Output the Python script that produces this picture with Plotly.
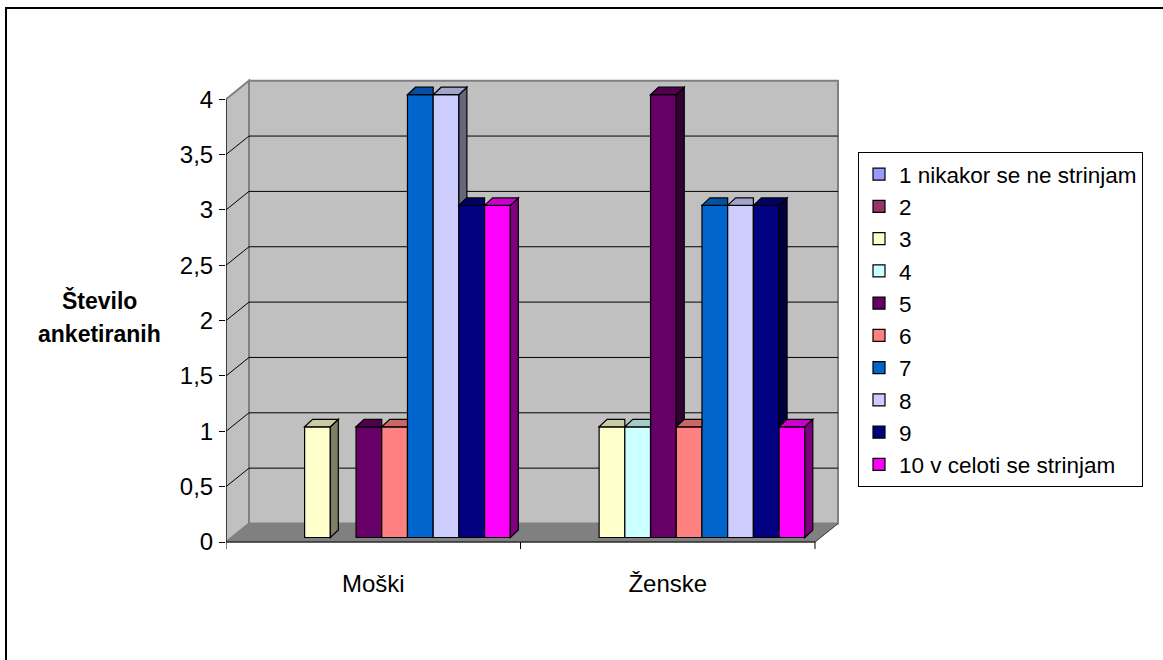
import plotly.graph_objects as go

# ---------------- data ----------------
categories = ["Moški", "Ženske"]
series_names = ["1 nikakor se ne strinjam", "2", "3", "4", "5", "6", "7", "8", "9",
                "10 v celoti se strinjam"]
series_colors = ["#9999FF", "#993366", "#FFFFCC", "#CCFFFF", "#660066", "#FF8080",
                 "#0066CC", "#CCCCFF", "#000080", "#FF00FF"]
moski = [0, 0, 1, 0, 1, 1, 4, 4, 3, 3]
zenske = [0, 0, 1, 1, 4, 1, 3, 3, 3, 1]
y_tickvals = [0, 0.5, 1, 1.5, 2, 2.5, 3, 3.5, 4]
y_ticktext = ["0", "0,5", "1", "1,5", "2", "2,5", "3", "3,5", "4"]
y_title_lines = ["Število", "anketiranih"]

values_by_cat = [moski, zenske]

# ---------------- geometry (pixels) ----------------
W_PX, H_PX = 1163, 660
L, R, T, B = 226, 840, 70, 560
PX_X = 294.5           # px per category unit
PX_Y = 110.7           # px per value unit
Y0_PX = 542            # pixel of value 0 on the front axis
x_lo = -0.5
x_hi = x_lo + (R - L) / PX_X
y_lo = -(B - Y0_PX) / PX_Y
y_hi = (Y0_PX - T) / PX_Y

DXW, DYW = 23 / PX_X, 18.5 / PX_Y        # wall depth
BSX, BSY = 8.5 / PX_X, 4.5 / PX_Y        # bar row offset into depth
DXB, DYB = 8 / PX_X, 7.5 / PX_Y          # bar depth
BARGAP = 0.127
n = len(series_names)
group_w = 1 - BARGAP
bar_w = group_w / n

FONT = "Liberation Sans, Arial, sans-serif"


def scale(hex_color, f):
    h = hex_color.lstrip("#")
    r, g, b = (int(h[i:i + 2], 16) for i in (0, 2, 4))
    return "#%02X%02X%02X" % (int(r * f), int(g * f), int(b * f))


def px_to_paper_x(p):
    return (p - L) / (R - L)


def px_to_paper_y(p):
    return (B - p) / (B - T)


fig = go.Figure()

cat_idx = list(range(len(categories)))
for i, name in enumerate(series_names):
    vals = [values_by_cat[c][i] for c in cat_idx]
    fig.add_trace(go.Bar(
        name=name,
        x=cat_idx,
        y=[v if v else None for v in vals],
        xaxis="x2", yaxis="y2",
        marker=dict(color=series_colors[i], line=dict(color="black", width=1.2)),
        hoverinfo="skip",
    ))

shapes = []

# outer chart border
shapes.append(dict(type="rect", xref="paper", yref="paper",
                   x0=px_to_paper_x(6), x1=px_to_paper_x(1175),
                   y0=px_to_paper_y(675), y1=px_to_paper_y(8),
                   line=dict(color="black", width=2), fillcolor="rgba(0,0,0,0)",
                   layer="below"))

# back wall
shapes.append(dict(type="rect", xref="x", yref="y", x0=x_lo + DXW, x1=1.5 + DXW,
                   y0=DYW, y1=4 + DYW, fillcolor="#C0C0C0",
                   line=dict(color="#808080", width=2), layer="below"))
# left wall
shapes.append(dict(type="path", xref="x", yref="y",
                   path=f"M {x_lo},0 L {x_lo + DXW},{DYW} L {x_lo + DXW},{4 + DYW} L {x_lo},4 Z",
                   fillcolor="#C0C0C0", line=dict(color="#808080", width=2), layer="below"))
# floor
shapes.append(dict(type="path", xref="x", yref="y",
                   path=f"M {x_lo},0 L 1.5,0 L {1.5 + DXW},{DYW} L {x_lo + DXW},{DYW} Z",
                   fillcolor="#808080", line=dict(color="#808080", width=1), layer="below"))
shapes.append(dict(type="line", xref="x", yref="y", x0=1.5, y0=0, x1=1.5 + DXW, y1=DYW,
                   line=dict(color="#404040", width=1), layer="below"))
# gridlines (back wall + left wall diagonals)
for v in y_tickvals[1:-1]:
    shapes.append(dict(type="line", xref="x", yref="y", x0=x_lo + DXW, x1=1.5 + DXW,
                       y0=v + DYW, y1=v + DYW, line=dict(color="black", width=1), layer="below"))
    shapes.append(dict(type="line", xref="x", yref="y", x0=x_lo, x1=x_lo + DXW,
                       y0=v, y1=v + DYW, line=dict(color="black", width=1), layer="below"))
# front axes lines
shapes.append(dict(type="line", xref="x", yref="y", x0=x_lo, x1=x_lo, y0=0, y1=4,
                   line=dict(color="black", width=1)))
shapes.append(dict(type="line", xref="x", yref="y", x0=x_lo, x1=1.5, y0=0, y1=0,
                   line=dict(color="black", width=1)))
for xt in [x_lo + k for k in range(len(categories) + 1)]:
    shapes.append(dict(type="line", xref="x", yref="y", x0=xt, x1=xt, y0=0, y1=-7 / PX_Y,
                       line=dict(color="black", width=1)))

# 3D faces of bars (side + top), drawn in the bar axes
for c in cat_idx:
    vals = values_by_cat[c]
    for i in range(n):
        v = vals[i]
        if not v:
            continue
        u = vals[i + 1] if i + 1 < n else 0
        xl = c - group_w / 2 + i * bar_w
        xr = xl + bar_w
        if u < v:
            shapes.append(dict(
                type="path", xref="x2", yref="y2",
                path=f"M {xr},{u} L {xr + DXB},{u + DYB} L {xr + DXB},{v + DYB} L {xr},{v} Z",
                fillcolor=scale(series_colors[i], 0.5), line=dict(color="black", width=1.2),
                layer="above"))
            path = f"M {xl},{v} L {xl + DXB},{v + DYB} L {xr + DXB},{v + DYB} L {xr},{v} Z"
        else:
            path = f"M {xl},{v} L {xl + DXB},{v + DYB} L {xr},{v + DYB} L {xr},{v} Z"
        shapes.append(dict(type="path", xref="x2", yref="y2", path=path,
                           fillcolor=scale(series_colors[i], 0.8),
                           line=dict(color="black", width=1.2), layer="above"))

annotations = []
for txt, cy in zip(y_title_lines, [300, 334]):
    annotations.append(dict(text=f"<b>{txt}</b>", xref="paper", yref="paper",
                            x=px_to_paper_x(99), y=px_to_paper_y(cy),
                            xanchor="center", yanchor="middle", showarrow=False,
                            font=dict(family=FONT, size=23, color="black")))

fig.update_layout(
    width=W_PX, height=H_PX,
    margin=dict(l=L, r=W_PX - R, t=T, b=H_PX - B, autoexpand=False),
    paper_bgcolor="white", plot_bgcolor="white",
    barmode="group", bargap=BARGAP, bargroupgap=0,
    font=dict(family=FONT, size=23, color="black"),
    xaxis=dict(range=[x_lo, x_hi], tickvals=cat_idx, ticktext=categories,
               showgrid=False, zeroline=False, showline=False, ticks="",
               ticklabelstandoff=7, tickfont=dict(size=24)),
    yaxis=dict(range=[y_lo, y_hi], tickvals=y_tickvals, ticktext=y_ticktext,
               showgrid=False, zeroline=False, showline=False, ticks="outside",
               ticklen=6, tickcolor="black", tickwidth=1, tickfont=dict(size=24),
               ticklabelstandoff=1),
    xaxis2=dict(overlaying="x", anchor="y2", visible=False,
                range=[x_lo - BSX, x_hi - BSX]),
    yaxis2=dict(overlaying="y", anchor="x2", visible=False,
                range=[y_lo - BSY, y_hi - BSY]),
    legend=dict(x=px_to_paper_x(858), y=px_to_paper_y(152), xanchor="left", yanchor="top",
                bgcolor="white", bordercolor="black", borderwidth=1,
                font=dict(family=FONT, size=22.5), traceorder="normal",
                entrywidth=262, entrywidthmode="pixels"),
    shapes=shapes,
    annotations=annotations,
    showlegend=True,
)

fig.write_html("out.html")
